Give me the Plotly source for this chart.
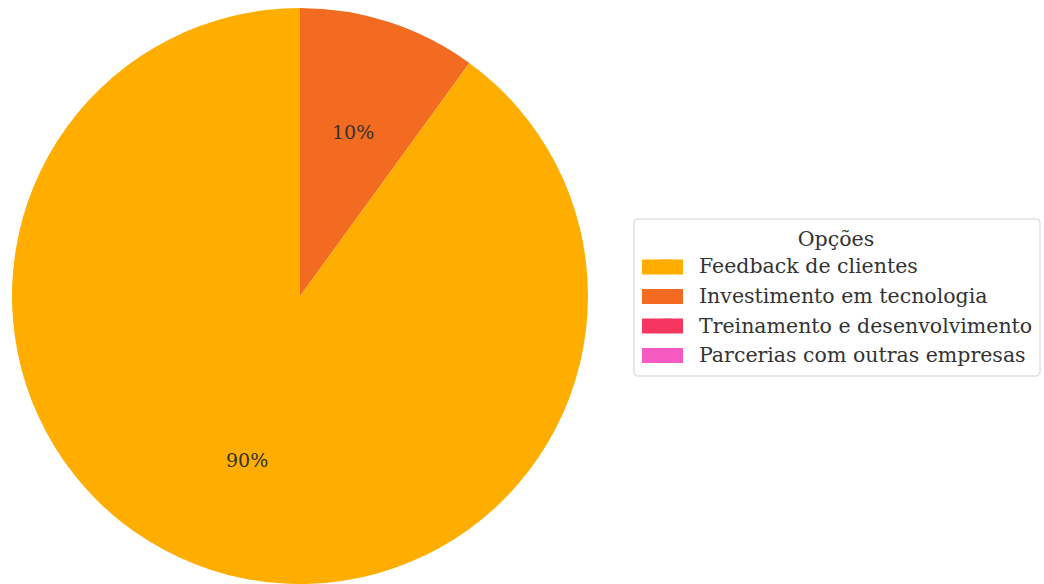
import math
import plotly.graph_objects as go

categories = [
    "Feedback de clientes",
    "Investimento em tecnologia",
    "Treinamento e desenvolvimento",
    "Parcerias com outras empresas",
]
values = [90, 10, 0, 0]
colors = ["#FFAE00", "#F26B21", "#F6365F", "#F65BC2"]

W, H = 1044, 584
FONT = "DejaVu Serif"

# pie placement in pixels
CX, CY, R = 300, 296, 288
START_DEG = 90          # first wedge starts at 12 o'clock, counter-clockwise
PCT_DIST = 0.6          # labels at 60% of the radius

total = sum(values)
first_sweep = 360 * values[0] / total

fig = go.Figure(
    go.Pie(
        labels=categories,
        values=values,
        marker=dict(colors=colors, line=dict(width=0)),
        sort=False,
        direction="clockwise",
        # clockwise drawing, offset so the first wedge ends at 12 o'clock
        rotation=360 - first_sweep,
        textinfo="none",
        domain=dict(x=[(CX - R) / W, (CX + R) / W], y=[(H - CY - R) / H, (H - CY + R) / H]),
        showlegend=True,
        hoverinfo="label+percent",
    )
)

# percentage labels at the wedge mid-angles
angle = START_DEG
for v in values:
    if v <= 0:
        continue
    sweep = 360 * v / total
    mid = math.radians(angle + sweep / 2)
    px = CX + PCT_DIST * R * math.cos(mid)
    py = CY - PCT_DIST * R * math.sin(mid)
    fig.add_annotation(
        x=px / W, y=1 - py / H, xref="paper", yref="paper",
        text=f"{100 * v / total:.0f}%", showarrow=False,
        font=dict(family=FONT, size=19, color="#333333"),
        xanchor="center", yanchor="middle",
    )
    angle += sweep


def px2paper(x, y):
    return x / W, 1 - y / H


# legend frame with rounded corners
LX0, LY0, LX1, LY1, RAD = 634, 219, 1040, 376, 4
path = (
    f"M{LX0 + RAD},{LY0} L{LX1 - RAD},{LY0} Q{LX1},{LY0} {LX1},{LY0 + RAD} "
    f"L{LX1},{LY1 - RAD} Q{LX1},{LY1} {LX1 - RAD},{LY1} L{LX0 + RAD},{LY1} "
    f"Q{LX0},{LY1} {LX0},{LY1 - RAD} L{LX0},{LY0 + RAD} Q{LX0},{LY0} {LX0 + RAD},{LY0} Z"
)


def to_paper_path(p):
    out = []
    for tok in p.split():
        head = tok[0] if tok[0].isalpha() else ""
        body = tok[1:] if head else tok
        if "," in body:
            xs, ys = body.split(",")
            fx, fy = px2paper(float(xs), float(ys))
            out.append(f"{head}{fx:.5f},{fy:.5f}")
        else:
            out.append(tok)
    return " ".join(out)


shapes = [
    dict(
        type="path", xref="paper", yref="paper", path=to_paper_path(path),
        fillcolor="white", line=dict(color="#d0d0d0", width=1), layer="above",
    )
]

# wide colour patches behind the legend's own swatches
row_y = [267, 296.5, 326, 355.5]
for c, yc in zip(colors, row_y):
    x0, y0 = px2paper(642, yc - 7.5)
    x1, y1 = px2paper(683, yc + 7.5)
    shapes.append(
        dict(type="rect", xref="paper", yref="paper", x0=x0, x1=x1, y0=y1, y1=y0,
             fillcolor=c, line=dict(width=0), layer="above")
    )

fig.update_layout(
    width=W,
    height=H,
    margin=dict(l=0, r=0, t=0, b=0),
    paper_bgcolor="white",
    plot_bgcolor="white",
    font=dict(family=FONT, size=20.5, color="#333333"),
    shapes=shapes,
    legend=dict(
        title=dict(text="Opções", side="top center", font=dict(size=20.5, color="#333333")),
        x=634 / W,
        y=1 - 219 / H,
        xanchor="left",
        yanchor="top",
        bgcolor="rgba(0,0,0,0)",
        borderwidth=0,
        itemwidth=55,
        font=dict(family=FONT, size=20.5, color="#333333"),
    ),
)

fig.write_html("out.html")
